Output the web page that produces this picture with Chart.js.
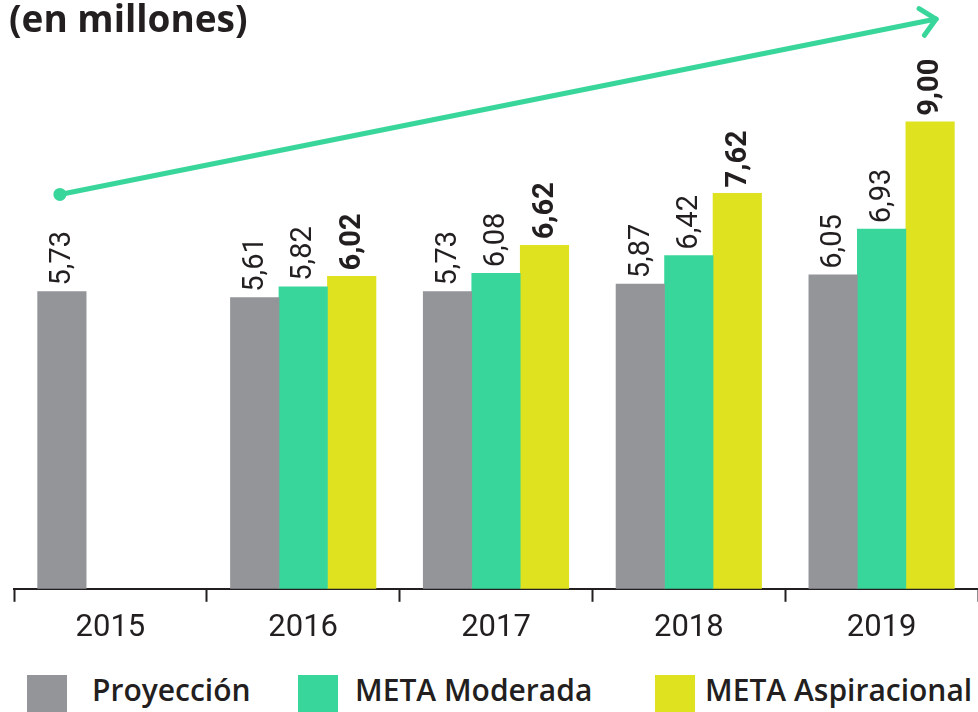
<!DOCTYPE html>
<html>
<head>
<meta charset="utf-8">
<script src="https://cdn.jsdelivr.net/npm/chart.js@4.4.1/dist/chart.umd.min.js"></script>
<style>
  html, body { margin: 0; padding: 0; background: #fff; }
  #wrap { position: relative; width: 978px; height: 712px; overflow: hidden; }
  #chart { position: absolute; left: 0; top: 0; }
  #title { position: absolute; left: 9px; top: -8px; font: 700 37px "Open Sans", sans-serif; color: #231f20; }
  .legbox { position: absolute; width: 40px; height: 37px; }
  .legtxt { position: absolute; font: 600 30px "Open Sans", sans-serif; color: #231f20; white-space: nowrap; }
</style>
</head>
<body>
<div id="wrap">
  <canvas id="chart" width="978" height="665"></canvas>
  <div id="title">(en millones)</div>
  <div id="legend"></div>
</div>
<script>
const years = ['2015', '2016', '2017', '2018', '2019'];
const proyeccion = [5.73, 5.61, 5.73, 5.87, 6.05];
const metaModerada = [null, 5.82, 6.08, 6.42, 6.93];
const metaAspiracional = [null, 6.02, 6.62, 7.62, 9.00];
const seriesNames = ['Proyección', 'META Moderada', 'META Aspiracional'];
const seriesColors = ['#939598', '#38d69b', '#dfe21f'];
const boldLabels = [false, false, true];
const arrowFrom = 7.6;   // valor aproximado del inicio de la flecha
const arrowTo = 10.98;   // valor aproximado del final de la flecha

// etiquetas giradas encima de cada barra
const valueLabels = {
  id: 'valueLabels',
  afterDatasetsDraw(chart) {
    const ctx = chart.ctx;
    chart.data.datasets.forEach((ds, i) => {
      const meta = chart.getDatasetMeta(i);
      meta.data.forEach((bar, j) => {
        const v = ds.data[j];
        if (v === null || v === undefined) return;
        ctx.save();
        ctx.translate(bar.x + 1, bar.y - 6);
        ctx.rotate(-Math.PI / 2);
        ctx.font = (boldLabels[i] ? '700 ' : '400 ') + '29px Roboto, sans-serif';
        ctx.fillStyle = '#231f20';
        ctx.textAlign = 'left';
        ctx.textBaseline = 'middle';
        ctx.fillText(v.toFixed(2).replace('.', ','), 0, 0);
        ctx.restore();
      });
    });
  }
};

// flecha de tendencia
const trendArrow = {
  id: 'trendArrow',
  afterDatasetsDraw(chart) {
    const ctx = chart.ctx;
    const y = chart.scales.y;
    const x0 = chart.getDatasetMeta(0).data[0].x - 2;
    const x1 = chart.getDatasetMeta(2).data[4].x + 6;
    const y0 = y.getPixelForValue(arrowFrom);
    const y1 = y.getPixelForValue(arrowTo);
    const ang = Math.atan2(y1 - y0, x1 - x0);
    ctx.save();
    ctx.strokeStyle = seriesColors[1];
    ctx.fillStyle = seriesColors[1];
    ctx.lineWidth = 5;
    ctx.lineCap = 'round';
    ctx.lineJoin = 'round';
    ctx.beginPath();
    ctx.moveTo(x0, y0);
    ctx.lineTo(x1, y1);
    ctx.stroke();
    ctx.beginPath();
    ctx.moveTo(x1 - 20 * Math.cos(ang - 0.75), y1 - 20 * Math.sin(ang - 0.75));
    ctx.lineTo(x1, y1);
    ctx.lineTo(x1 - 20 * Math.cos(ang + 0.75), y1 - 20 * Math.sin(ang + 0.75));
    ctx.stroke();
    ctx.beginPath();
    ctx.arc(x0, y0, 6.5, 0, Math.PI * 2);
    ctx.fill();
    ctx.restore();
  }
};

new Chart(document.getElementById('chart'), {
  type: 'bar',
  data: {
    labels: years,
    datasets: [
      { label: seriesNames[0], data: proyeccion, backgroundColor: seriesColors[0] },
      { label: seriesNames[1], data: metaModerada, backgroundColor: seriesColors[1] },
      { label: seriesNames[2], data: metaAspiracional, backgroundColor: seriesColors[2] }
    ]
  },
  options: {
    responsive: false,
    animation: false,
    barThickness: 48.5,
    layout: { padding: { left: 14, right: 0, top: 18, bottom: 10 } },
    plugins: { legend: { display: false }, tooltip: { enabled: false } },
    scales: {
      x: {
        grid: { offset: true, drawOnChartArea: false, drawTicks: true, tickLength: 13, tickColor: '#231f20', tickWidth: 2 },
        border: { display: true, color: '#231f20', width: 2 },
        ticks: { color: '#231f20', font: { family: 'Roboto', size: 31 }, padding: 8 }
      },
      y: { display: false, min: 0, max: 11 }
    }
  },
  plugins: [valueLabels, trendArrow]
});

// leyenda
const legendPos = [[27, 92], [298, 355], [655, 705]];
const legend = document.getElementById('legend');
seriesNames.forEach((name, i) => {
  const box = document.createElement('div');
  box.className = 'legbox';
  box.style.left = legendPos[i][0] + 'px';
  box.style.top = '675px';
  box.style.background = seriesColors[i];
  legend.appendChild(box);
  const t = document.createElement('div');
  t.className = 'legtxt';
  t.style.left = legendPos[i][1] + 'px';
  t.style.top = '669px';
  t.textContent = name;
  legend.appendChild(t);
});
</script>
</body>
</html>
